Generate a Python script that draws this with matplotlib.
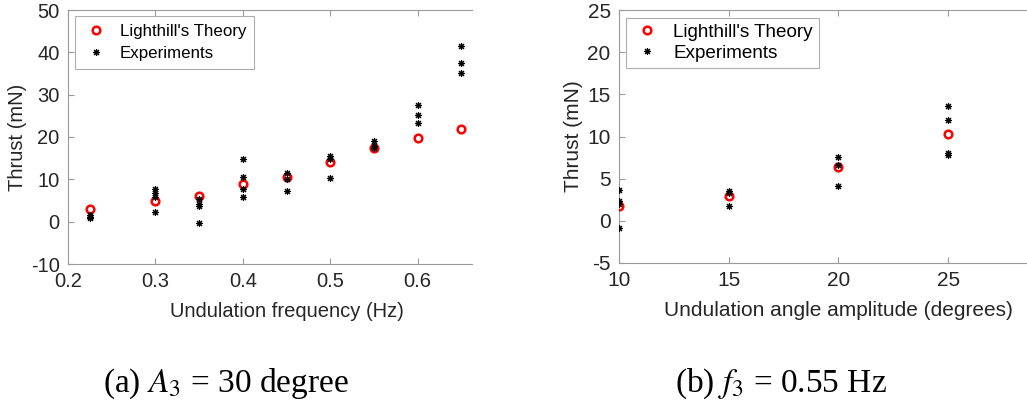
import matplotlib
matplotlib.use("Agg")
import matplotlib.pyplot as plt
from matplotlib.patches import Rectangle

# (a) thrust vs undulation frequency, A3 = 30 degree
freq = [0.225, 0.3, 0.35, 0.4, 0.45, 0.5, 0.55, 0.6, 0.65]
theory_a = [3.0, 4.8, 6.1, 8.9, 10.5, 14.2, 17.4, 19.7, 22.0]
exp_a = [
    [1.5, 1.0, 0.8],
    [7.7, 6.7, 5.9, 2.3],
    [5.4, 4.2, 3.6, -0.3],
    [14.8, 10.5, 7.7, 5.8],
    [11.6, 10.0, 7.3],
    [15.4, 14.8, 10.3],
    [19.1, 17.9, 17.3],
    [27.5, 25.3, 23.2],
    [41.4, 37.5, 35.1],
]

# (b) thrust vs undulation angle amplitude, f3 = 0.55 Hz
amp = [10, 15, 20, 25]
theory_b = [1.7, 3.0, 6.4, 10.3]
exp_b = [
    [3.7, 2.3, 2.0, -0.9],
    [3.5, 3.3, 1.8],
    [7.6, 6.6, 4.1],
    [13.6, 12.0, 8.0, 7.8],
]

plt.rcParams['font.family'] = ['Liberation Sans', 'DejaVu Sans']
plt.rcParams['mathtext.fontset'] = 'stix'
plt.rcParams['axes.unicode_minus'] = False
txt = '#262626'
edge = '#9a9a9a'
star = (8, 2, 0)

W, H = 1027, 407
fig = plt.figure(figsize=(W / 100, H / 100), dpi=100)


def panel(box, x, th, ex, xlim, ylim, xt, yt, xlab, fs, lfs, lsp, bpad, ltop):
    l, t, r, b = box
    ax = fig.add_axes([l / W, 1 - b / H, (r - l) / W, (b - t) / H])
    ax.plot(x, th, 'o', mfc='none', mec='red', mew=1.8, ms=5.5,
            label="Lighthill's Theory", zorder=3)
    ex_x = [xi for xi, vals in zip(x, ex) for _ in vals]
    ex_y = [v for vals in ex for v in vals]
    ax.plot(ex_x, ex_y, ls='none', marker=star, color='black', mew=0.8, ms=5,
            label='Experiments', zorder=4)
    ax.set_xlim(*xlim)
    ax.set_ylim(*ylim)
    ax.set_xticks(xt)
    ax.set_yticks(yt)
    ax.tick_params(direction='in', top=True, right=True, colors=edge,
                   labelcolor=txt, labelsize=fs, length=4, pad=6)
    for s in ax.spines.values():
        s.set_color(edge)
        s.set_linewidth(0.8)
    ax.set_xlabel(xlab, fontsize=fs, color=txt, labelpad=8)
    ax.set_ylabel('Thrust (mN)', fontsize=fs, color=txt, labelpad=3)
    # legend anchored in pixels from the axes' top-left corner
    lx = (l + 7) / W
    ly = 1 - ltop / H
    leg = ax.legend(loc='upper left', bbox_to_anchor=(lx, ly),
                    bbox_transform=fig.transFigure,
                    fontsize=lfs, frameon=True, fancybox=False,
                    borderaxespad=0, handletextpad=0.6, borderpad=bpad,
                    labelspacing=lsp, handlelength=1.6)
    leg.get_frame().set_edgecolor(edge)
    leg.get_frame().set_linewidth(0.8)
    return ax


# both panels are cut off on the right in the original figure
panel((68, 10, 505, 264), freq, theory_a, exp_a, (0.2, 0.7), (-10, 50),
      [0.2, 0.3, 0.4, 0.5, 0.6], range(-10, 51, 10),
      'Undulation frequency (Hz)', 14.5, 12.2, 0.45, 0.45, 16)
panel((619, 10, 1058, 263), amp, theory_b, exp_b, (10, 30), (-5, 25),
      [10, 15, 20, 25], range(-5, 26, 5),
      'Undulation angle amplitude (degrees)', 15, 13.6, 0.2, 0.3, 18)

fig.add_artist(Rectangle((473 / W, 0), 50 / W, 1, transform=fig.transFigure,
                         facecolor='white', edgecolor='none', zorder=10))

fig.text(226 / W, 1 - 384 / H, r'(a) $A_3$ = 30 degree', ha='center',
         va='center', fontsize=24, family='Liberation Serif')
fig.text(781 / W, 1 - 384 / H, r'(b) $f_3$ = 0.55 Hz', ha='center',
         va='center', fontsize=24, family='Liberation Serif')

fig.savefig('out.png', dpi=100)
